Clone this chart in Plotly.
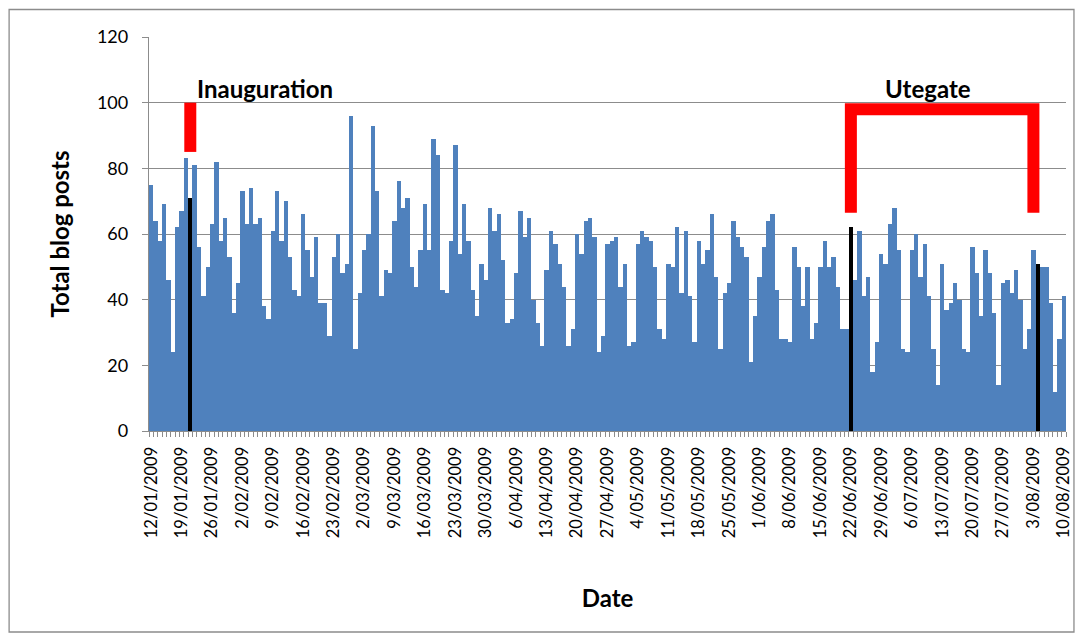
import pandas as pd
import plotly.graph_objects as go

# Daily totals, 12 Jan 2009 - 10 Aug 2009
start_date = "2009-01-12"
posts = [
    75, 64, 58, 69, 46, 24, 62, 67, 83, 71, 81, 56, 41, 50, 63, 82, 58, 65, 53, 36,
    45, 73, 63, 74, 63, 65, 38, 34, 61, 73, 58, 70, 53, 43, 41, 66, 55, 47, 59, 39,
    39, 29, 53, 60, 48, 51, 96, 25, 42, 55, 60, 93, 73, 41, 49, 48, 64, 76, 68, 71,
    50, 44, 55, 69, 55, 89, 84, 43, 42, 58, 87, 54, 69, 58, 43, 35, 51, 46, 68, 61,
    66, 52, 33, 34, 48, 67, 59, 65, 40, 33, 26, 49, 61, 57, 51, 44, 26, 31, 60, 54,
    64, 65, 59, 24, 29, 57, 58, 59, 44, 51, 26, 27, 57, 61, 59, 58, 50, 31, 28, 51,
    50, 62, 42, 61, 41, 27, 58, 51, 55, 66, 47, 25, 42, 45, 64, 59, 56, 53, 21, 35,
    47, 56, 64, 66, 43, 28, 28, 27, 56, 50, 38, 50, 28, 33, 50, 58, 50, 53, 44, 31,
    31, 62, 46, 61, 41, 47, 18, 27, 54, 51, 63, 68, 55, 25, 24, 55, 60, 47, 57, 41,
    25, 14, 51, 37, 39, 45, 40, 25, 24, 56, 48, 35, 55, 48, 36, 14, 45, 46, 42, 49,
    40, 25, 31, 55, 51, 50, 50, 39, 12, 28, 41,
]
dates = pd.date_range(start_date, periods=len(posts), freq="D")

# Days of note, drawn in black
key_days = ["2009-01-21", "2009-06-22", "2009-08-04"]

# Event markers
inauguration_day = "2009-01-21"
utegate_start = "2009-06-22"
utegate_end = "2009-08-03"

BLUE = "#4F81BD"
GRID = "#8C8C8C"
FONT = "Lato, 'Open Sans', sans-serif"

key_set = set(pd.to_datetime(key_days))
colors = ["#000000" if d in key_set else BLUE for d in dates]

fig = go.Figure(
    go.Bar(
        x=dates,
        y=posts,
        marker=dict(color=colors, line=dict(width=0)),
        hovertemplate="%{x|%d/%m/%Y}: %{y}<extra></extra>",
    )
)

fig.update_layout(
    width=1085,
    height=637,
    margin=dict(l=149, r=15, t=37, b=206),
    paper_bgcolor="white",
    plot_bgcolor="white",
    bargap=0,
    showlegend=False,
    font=dict(family=FONT, size=16, color="black"),
)

fig.update_yaxes(
    range=[0, 120],
    dtick=20,
    showgrid=True,
    gridcolor=GRID,
    gridwidth=1.3,
    showline=True,
    linecolor=GRID,
    linewidth=1.3,
    ticks="outside",
    ticklen=6,
    tickcolor=GRID,
    tickfont=dict(size=18),
    ticklabelstandoff=10,
    zeroline=False,
    title=dict(text="<b>Total blog posts</b>", font=dict(size=24), standoff=20),
)

fig.update_xaxes(
    type="date",
    range=[dates[0] - pd.Timedelta(hours=12), dates[-1] + pd.Timedelta(hours=12)],
    tick0=start_date,
    dtick=7 * 86400000,
    tickformat="%-d/%m/%Y",
    tickangle=-90,
    ticks="",
    tickfont=dict(size=16.5),
    ticklabelstandoff=8,
    showline=True,
    linecolor=GRID,
    linewidth=1.3,
    showgrid=False,
    minor=dict(
        tick0=dates[0] - pd.Timedelta(hours=12),
        dtick=86400000,
        ticks="outside",
        ticklen=5,
        tickcolor=GRID,
        showgrid=False,
    ),
    title=dict(text="<b>Date</b>", font=dict(size=24), standoff=52),
)

red = dict(color="#FF0000", width=12)
fig.add_shape(type="line", xref="x", yref="y",
              x0=inauguration_day, x1=inauguration_day, y0=85, y1=100, line=red)
fig.add_shape(
    type="path", xref="x", yref="y",
    path=f"M{utegate_start},66.5 L{utegate_start},98 L{utegate_end},98 L{utegate_end},66.5",
    line=red,
)

fig.add_annotation(x=inauguration_day, y=100, xref="x", yref="y",
                   text="<b>Inauguration</b>", showarrow=False,
                   xanchor="left", yanchor="bottom", xshift=5, yshift=-2,
                   font=dict(size=24))
fig.add_annotation(x="2009-07-09", y=100, xref="x", yref="y",
                   text="<b>Utegate</b>", showarrow=False,
                   xanchor="center", yanchor="bottom", xshift=3, yshift=-2,
                   font=dict(size=24))

# Outer chart border
fig.add_shape(type="rect", xref="paper", yref="paper",
              x0=(8.5 - 149) / 921, x1=(1078 - 149) / 921,
              y0=(431 - 632) / 394, y1=(431 - 9.5) / 394,
              line=dict(color=GRID, width=1.3), layer="below")

fig.write_html("out.html")
